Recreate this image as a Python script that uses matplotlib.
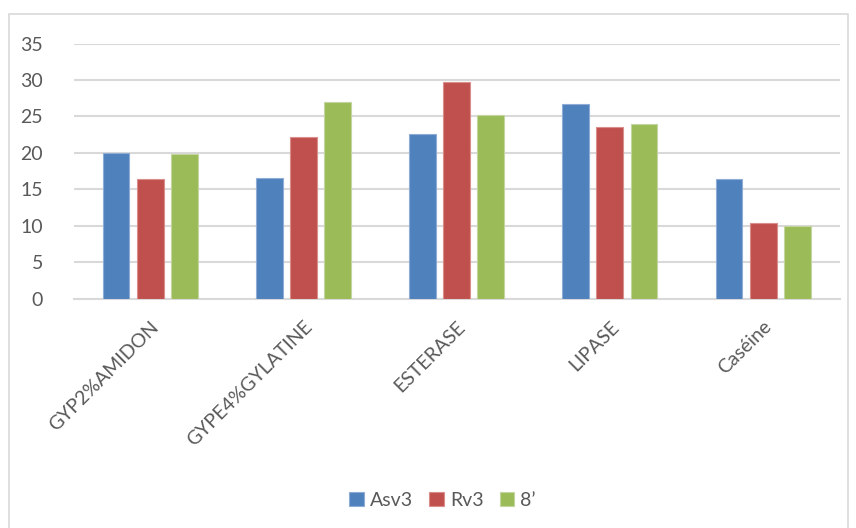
import matplotlib
matplotlib.use("Agg")
import matplotlib.pyplot as plt
from matplotlib.patches import Rectangle
import numpy as np

categories = ["GYP2%AMIDON", "GYPE4%GYLATINE", "ESTERASE", "LIPASE", "Caséine"]
series_names = ["Asv3", "Rv3", "8\u2019"]
asv3 = [20.0, 16.5, 22.6, 26.7, 16.4]
rv3 = [16.4, 22.2, 29.7, 23.5, 10.4]
s8 = [19.9, 27.0, 25.2, 24.0, 10.0]
yticks = [0, 5, 10, 15, 20, 25, 30, 35]

colors = ["#4F81BD", "#C0504D", "#9BBB59"]
edges = ["#8EACD6", "#DA8E8C", "#C3D69F"]
text_color = "#595959"
grid_color = "#D9D9D9"

plt.rcParams["font.family"] = ["Lato", "DejaVu Sans"]

fig = plt.figure(figsize=(8.56, 5.28), dpi=100)
fig.patches.append(Rectangle((9 / 856, -0.01), (848 - 9) / 856, 1 - 14 / 528 + 0.01,
                             transform=fig.transFigure, fill=False,
                             edgecolor=grid_color, linewidth=1.2, zorder=0))

ax = fig.add_axes([0.086, 0.4343, 0.895, 0.4833])

x = np.arange(len(categories))
width = 0.175
pitch = 0.223
for i, (vals, name) in enumerate(zip([asv3, rv3, s8], series_names)):
    ax.bar(x + (i - 1) * pitch, vals, width, color=colors[i], edgecolor=edges[i],
           linewidth=0.8, label=name, zorder=3)

ax.set_xlim(-0.5, len(categories) - 0.5)
ax.set_ylim(0, 35)
ax.set_yticks(yticks)
ax.set_yticklabels([str(v) for v in yticks], fontsize=14, color=text_color)
ax.yaxis.grid(True, color=grid_color, linewidth=1.5, zorder=0)
ax.set_axisbelow(True)
for s in ["top", "right", "left"]:
    ax.spines[s].set_visible(False)
ax.spines["bottom"].set_color(grid_color)
ax.spines["bottom"].set_linewidth(1.5)
ax.tick_params(axis="both", length=0)
ax.tick_params(axis="y", pad=22)

ax.set_xticks(x)
ax.set_xticklabels(categories, rotation=45, ha="right", va="top",
                   rotation_mode="anchor", fontsize=14, color=text_color)
ax.tick_params(axis="x", pad=14)

leg = fig.legend(loc="center", bbox_to_anchor=(0.517, 0.053), ncol=3, frameon=False,
                 fontsize=14, handlelength=0.75, handleheight=0.75,
                 handletextpad=0.3, columnspacing=0.85)
for t in leg.get_texts():
    t.set_color(text_color)

fig.savefig("out.png", dpi=100)
